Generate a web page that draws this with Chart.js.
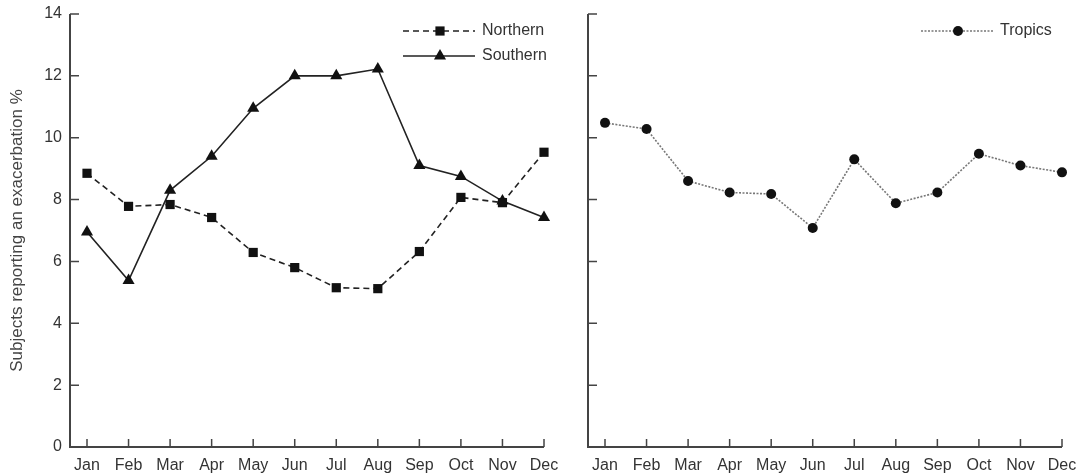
<!DOCTYPE html>
<html>
<head>
<meta charset="utf-8">
<script src="https://cdn.jsdelivr.net/npm/chart.js@4/dist/chart.umd.min.js"></script>
<style>
body { margin: 0; background: #fff; overflow: hidden; }
#left { position: absolute; left: 0; top: 0; width: 560px; height: 474px; }
#right { position: absolute; left: 560px; top: 0; width: 519px; height: 474px; }
</style>
</head>
<body>
<div id="left"><canvas id="c1"></canvas></div>
<div id="right"><canvas id="c2"></canvas></div>
<script>
var months = ["Jan", "Feb", "Mar", "Apr", "May", "Jun", "Jul", "Aug", "Sep", "Oct", "Nov", "Dec"];
var northern = [8.85, 7.78, 7.84, 7.42, 6.29, 5.8, 5.15, 5.12, 6.32, 8.07, 7.9, 9.53];
var southern = [6.95, 5.38, 8.3, 9.4, 10.95, 12.0, 12.0, 12.22, 9.1, 8.75, 7.95, 7.42];
var tropics = [10.48, 10.28, 8.6, 8.23, 8.18, 7.08, 9.3, 7.88, 8.23, 9.48, 9.1, 8.88];
var yTicks = [0, 2, 4, 6, 8, 10, 12, 14];

var FONT = "'Liberation Sans', Arial, sans-serif";
Chart.defaults.font.family = FONT;
Chart.defaults.color = "#333";

// axis lines with inward tick marks, y axis sits a bit left of Jan
var axesPlugin = {
	id: "axes",
	beforeDatasetsDraw: function (chart) {
		var ctx = chart.ctx;
		var a = chart.chartArea;
		var xs = chart.scales.x;
		var ys = chart.scales.y;
		var x0 = a.left - 17;
		ctx.save();
		ctx.strokeStyle = "#444";
		ctx.lineWidth = 2;
		ctx.beginPath();
		ctx.moveTo(x0, ys.getPixelForValue(yTicks[yTicks.length - 1]));
		ctx.lineTo(x0, a.bottom);
		ctx.lineTo(xs.getPixelForTick(months.length - 1), a.bottom);
		ctx.stroke();
		ctx.lineWidth = 1.5;
		ctx.beginPath();
		yTicks.forEach(function (v) {
			var py = ys.getPixelForValue(v);
			ctx.moveTo(x0, py);
			ctx.lineTo(x0 + 9, py);
		});
		months.forEach(function (m, i) {
			var px = xs.getPixelForTick(i);
			ctx.moveTo(px, a.bottom);
			ctx.lineTo(px, a.bottom - 8);
		});
		ctx.stroke();
		ctx.restore();
	},
};

function drawMarker(ctx, style, r, x, y) {
	ctx.beginPath();
	if (style === "rect") {
		var s = r * Math.SQRT1_2;
		ctx.rect(x - s, y - s, 2 * s, 2 * s);
	} else if (style === "triangle") {
		ctx.moveTo(x, y - r);
		ctx.lineTo(x + r * 0.866, y + r * 0.5);
		ctx.lineTo(x - r * 0.866, y + r * 0.5);
		ctx.closePath();
	} else {
		ctx.arc(x, y, r, 0, Math.PI * 2);
	}
	ctx.fill();
}

// legend with line sample + marker, like the print figure
var legendPlugin = {
	id: "lineLegend",
	afterDraw: function (chart, args, opts) {
		var ctx = chart.ctx;
		var x0 = chart.chartArea.right + opts.dx;
		chart.data.datasets.forEach(function (ds, i) {
			var y = opts.y + i * 25;
			ctx.save();
			ctx.strokeStyle = ds.borderColor;
			ctx.lineWidth = ds.borderWidth;
			ctx.setLineDash(ds.borderDash || []);
			ctx.beginPath();
			ctx.moveTo(x0, y);
			ctx.lineTo(x0 + 72, y);
			ctx.stroke();
			ctx.setLineDash([]);
			ctx.fillStyle = ds.pointBackgroundColor;
			drawMarker(ctx, ds.pointStyle, ds.pointRadius, x0 + 37, y);
			ctx.fillStyle = "#333";
			ctx.font = "16px " + FONT;
			ctx.textBaseline = "middle";
			ctx.fillText(ds.label, x0 + 79, y);
			ctx.restore();
		});
	},
};

function lineSet(label, data, color, dash, style, radius) {
	return {
		label: label,
		data: data,
		borderColor: color,
		borderWidth: 1.6,
		borderDash: dash,
		pointStyle: style,
		pointRadius: radius,
		pointHoverRadius: radius,
		pointBackgroundColor: "#111",
		pointBorderWidth: 0,
		tension: 0,
		clip: false,
	};
}

function makeOptions(yWidth, padRight, showLabels) {
	return {
		responsive: true,
		maintainAspectRatio: false,
		animation: false,
		layout: { padding: { top: 14, right: padRight, left: 0, bottom: 0 } },
		plugins: {
			legend: { display: false },
			tooltip: { enabled: false },
			lineLegend: { dx: -141, y: 31 },
		},
		scales: {
			x: {
				type: "category",
				offset: false,
				grid: { display: false, drawTicks: false },
				border: { display: false },
				ticks: { autoSkip: false, maxRotation: 0, padding: 9, font: { size: 16 } },
				afterFit: function (s) {
					s.height = 27;
					s.paddingLeft = 0;
					s.paddingRight = 0;
				},
			},
			y: {
				min: 0,
				max: 14,
				grid: { display: false, drawTicks: false },
				border: { display: false },
				ticks: { display: showLabels, stepSize: 2, padding: 25, font: { size: 16 } },
				title: {
					display: showLabels,
					text: "Subjects reporting an exacerbation %",
					font: { size: 17 },
					color: "#444",
					padding: { top: 7, bottom: 0 },
				},
				afterFit: function (s) {
					s.width = yWidth;
					s.paddingTop = 0;
					s.paddingBottom = 0;
				},
			},
		},
	};
}

new Chart(document.getElementById("c1"), {
	type: "line",
	data: {
		labels: months,
		datasets: [
			lineSet("Northern", northern, "#222", [6, 4], "rect", 6.5),
			lineSet("Southern", southern, "#222", [], "triangle", 7),
		],
	},
	options: makeOptions(87, 16, true),
	plugins: [axesPlugin, legendPlugin],
});

new Chart(document.getElementById("c2"), {
	type: "line",
	data: {
		labels: months,
		datasets: [lineSet("Tropics", tropics, "#777", [2, 1.5], "circle", 5)],
	},
	options: makeOptions(45, 17, false),
	plugins: [axesPlugin, legendPlugin],
});
</script>
</body>
</html>
